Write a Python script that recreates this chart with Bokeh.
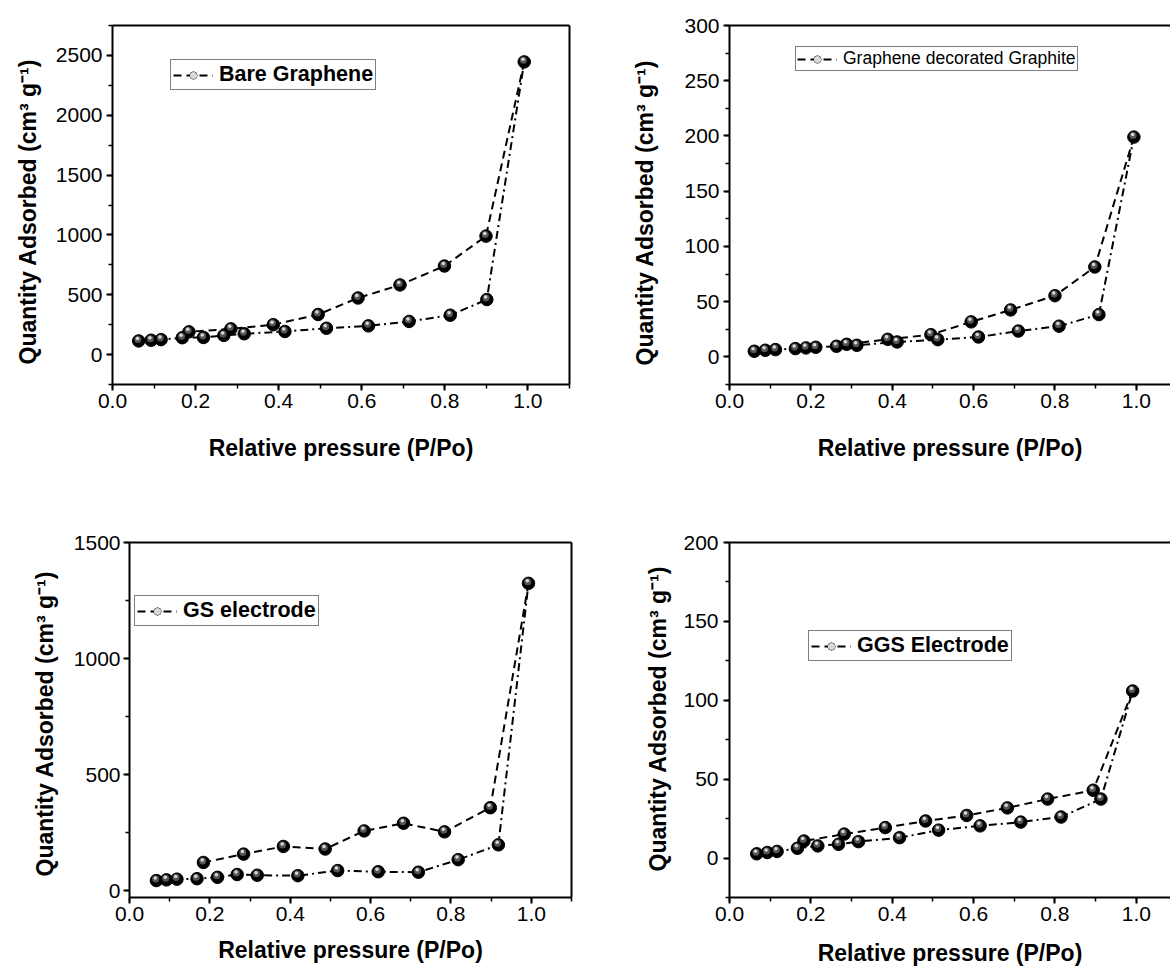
from bokeh.plotting import figure
from bokeh.models import (LinearAxis, FixedTicker, SingleIntervalTicker, NumeralTickFormatter,
                          Legend, LegendItem, Range1d, ColumnDataSource, Title)
from bokeh.layouts import column, row
from bokeh.transform import dodge
from bokeh.embed import file_html
from bokeh.resources import INLINE

FONT = "Liberation Sans"

# ---------------- data ----------------
bg_label = "Bare Graphene"
bg_ads_x = [0.063, 0.093, 0.117, 0.168, 0.219, 0.268, 0.317, 0.415, 0.515, 0.616, 0.714, 0.813, 0.901, 0.991]
bg_ads_y = [114, 120, 125, 141, 143, 160, 174, 193, 220, 240, 277, 329, 460, 2446]
bg_des_x = [0.991, 0.899, 0.799, 0.692, 0.591, 0.495, 0.387, 0.285, 0.184]
bg_des_y = [2446, 990, 740, 582, 473, 335, 250, 215, 190]

gdg_label = "Graphene decorated Graphite"
gdg_ads_x = [0.061, 0.088, 0.113, 0.162, 0.188, 0.212, 0.263, 0.313, 0.412, 0.512, 0.612, 0.710, 0.810, 0.908, 0.994]
gdg_ads_y = [5.1, 6.0, 6.6, 7.5, 8.1, 8.7, 9.6, 10.5, 13.5, 15.6, 18.0, 23.4, 27.8, 38.3, 199]
gdg_des_x = [0.994, 0.898, 0.800, 0.691, 0.594, 0.495, 0.389, 0.288]
gdg_des_y = [199, 81.4, 55.4, 42.5, 31.7, 20.1, 15.9, 11.4]

gs_label = "GS electrode"
gs_ads_x = [0.067, 0.092, 0.118, 0.168, 0.219, 0.268, 0.318, 0.419, 0.518, 0.619, 0.719, 0.818, 0.918, 0.993]
gs_ads_y = [43, 46, 49, 51, 57, 69, 66, 64, 86, 81, 79, 133, 197, 1324]
gs_des_x = [0.993, 0.898, 0.784, 0.682, 0.584, 0.487, 0.383, 0.284, 0.184]
gs_des_y = [1324, 357, 253, 290, 257, 179, 190, 157, 121]

ggs_label = "GGS Electrode"
ggs_ads_x = [0.067, 0.093, 0.117, 0.167, 0.217, 0.268, 0.317, 0.418, 0.514, 0.616, 0.716, 0.815, 0.913, 0.991]
ggs_ads_y = [2.7, 3.5, 4.2, 6.2, 7.7, 8.7, 10.4, 12.9, 17.7, 20.4, 22.8, 26.0, 37.4, 105.9]
ggs_des_x = [0.991, 0.894, 0.782, 0.683, 0.583, 0.482, 0.383, 0.282, 0.183]
ggs_des_y = [105.9, 43.0, 37.4, 31.8, 27.0, 23.5, 19.3, 15.2, 10.8]

x_title = "Relative pressure (P/Po)"
y_title = "Quantity Adsorbed (cm\u00b3 g\u207b\u00b9)"


def style_axis(ax):
    ax.axis_line_width = 2
    ax.axis_line_color = "black"
    ax.major_tick_line_width = 2
    ax.major_tick_out = 6
    ax.major_tick_in = 0
    ax.minor_tick_line_width = 1.5
    ax.minor_tick_out = 4
    ax.minor_tick_in = 0
    ax.major_label_text_font = FONT
    ax.major_label_text_font_size = "21px"
    ax.major_label_text_color = "black"
    ax.axis_label_text_font = FONT
    ax.axis_label_text_font_style = "bold"
    ax.axis_label_text_color = "black"


def border_axis(p, side):
    ax = LinearAxis(ticker=FixedTicker(ticks=[]), axis_line_width=2, axis_line_color="black",
                    major_tick_line_color=None, minor_tick_line_color=None)
    p.add_layout(ax, side)


def panel(ads_x, ads_y, des_x, des_y, label, xend, y0, y1, yint, borders,
          ytitle_std, ytitle_off, ytick_std, xlab_std, leg_loc, leg_size, leg_style, leg_pad,
          right_border):
    w, h = 585, 484
    mbl, mbr, mbt, mbb = borders
    p = figure(width=w, height=h, output_backend="svg", toolbar_location=None,
               x_range=Range1d(0, xend), y_range=Range1d(y0, y1),
               min_border_left=mbl, min_border_right=mbr, min_border_top=mbt, min_border_bottom=mbb,
               x_axis_label=x_title)
    p.grid.visible = False
    p.outline_line_color = None
    p.background_fill_color = "white"
    p.border_fill_color = "white"

    xa = p.xaxis[0]
    xa.ticker = SingleIntervalTicker(interval=0.2, num_minor_ticks=2)
    xa.formatter = NumeralTickFormatter(format="0.0")
    style_axis(xa)
    xa.axis_label_text_font_size = "23px"
    xa.major_label_standoff = 3
    xa.axis_label_standoff = xlab_std

    ya = p.yaxis[0]
    ya.ticker = SingleIntervalTicker(interval=yint, num_minor_ticks=2)
    style_axis(ya)
    ya.major_label_standoff = ytick_std

    # y title as a side title so it can be shifted along the axis like the original
    p.add_layout(Title(text=y_title, align="left", vertical_align="bottom",
                       offset=ytitle_off, standoff=ytitle_std,
                       text_font=FONT, text_font_size="23px", text_font_style="bold",
                       text_color="black"), "left")

    border_axis(p, "above")
    if right_border:
        border_axis(p, "right")

    # pixel -> data offsets for the sphere highlights
    fw = w - mbl - mbr
    fh = h - mbt - mbb
    ux = xend / fw
    uy = (y1 - y0) / fh

    r_des = p.line(des_x, des_y, line_color="black", line_width=2, line_dash="8 5")
    r_ads = p.line(ads_x, ads_y, line_color="black", line_width=2, line_dash="8 4 2 4")

    src = ColumnDataSource(dict(x=ads_x + des_x[1:], y=ads_y + des_y[1:]))
    s1 = p.scatter("x", "y", source=src, size=12.5, marker="circle",
                   fill_color="black", line_color="black", line_width=1)
    s2 = p.scatter(dodge("x", -0.8 * ux), dodge("y", 1.6 * uy), source=src, size=7,
                   marker="circle", fill_color="#555555", line_color=None)
    s3 = p.scatter(dodge("x", -1.2 * ux), dodge("y", 2.6 * uy), source=src, size=3.5,
                   marker="circle", fill_color="#d8d8d8", line_color=None)

    leg = Legend(items=[LegendItem(label=label, renderers=[r_des, s1, s3])],
                 location=leg_loc, margin=0, padding=leg_pad, spacing=0,
                 glyph_width=40, glyph_height=18, label_standoff=6,
                 label_text_font=FONT, label_text_font_size=leg_size,
                 label_text_font_style=leg_style, label_text_color="black",
                 border_line_color="black", border_line_width=1.5,
                 background_fill_color="white", background_fill_alpha=1.0)
    p.add_layout(leg)
    return p


p1 = panel(bg_ads_x, bg_ads_y, bg_des_x, bg_des_y, bg_label, 1.1, -250, 2750, 500,
           (112, 16, 25, 91), 24, 20, 4, 24, (58, 294), "21.5px", "bold", 2, True)
p2 = panel(gdg_ads_x, gdg_ads_y, gdg_des_x, gdg_des_y, gdg_label, 1.084, -25, 300, 50,
           (144, 0, 23, 100), 48, 19, 4, 24, (66, 313), "17.5px", "normal", 1, False)
p3 = panel(gs_ads_x, gs_ads_y, gs_des_x, gs_des_y, gs_label, 1.1, -30, 1500, 500,
           (129, 14, 58, 66), 26, 21, 3, 13, (5, 271), "21.5px", "bold", 2, True)
p4 = panel(ggs_ads_x, ggs_ads_y, ggs_des_x, ggs_des_y, ggs_label, 1.084, -25, 200, 50,
           (144, 0, 52, 71), 20, 26, 5, 16, (79, 236), "21.5px", "bold", 2, False)

layout = column(row(p1, p2, spacing=0), row(p3, p4, spacing=0), spacing=0)

open("out.html", "w").write(file_html(layout, INLINE))
